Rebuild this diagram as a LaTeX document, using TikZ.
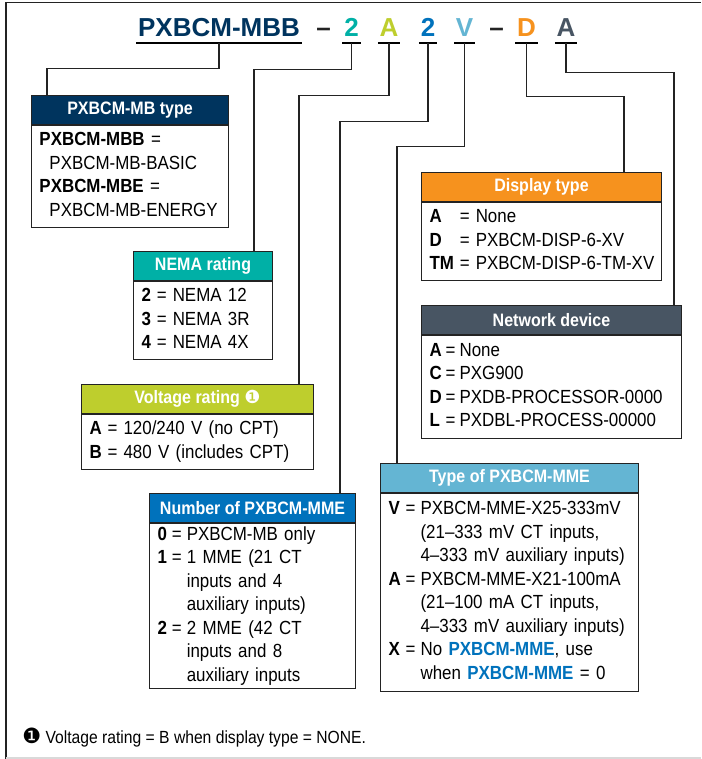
\documentclass[tikz,border=0pt]{standalone}
\usepackage{fontspec}
\setmainfont{Liberation Sans}[FakeStretch=0.89]
\newfontfamily\titlefont{Liberation Sans}
\newfontfamily\symfont{DejaVu Sans}
\usetikzlibrary{positioning}
\definecolor{navy}{RGB}{0,52,94}
\definecolor{tealc}{RGB}{0,176,166}
\definecolor{limec}{RGB}{190,206,45}
\definecolor{bluec}{RGB}{0,114,188}
\definecolor{ltbluec}{RGB}{100,181,211}
\definecolor{orangec}{RGB}{246,146,30}
\definecolor{slatec}{RGB}{72,85,99}
\definecolor{ink}{RGB}{35,35,35}
\tikzset{
  hdr/.style={draw=ink, line width=0.5pt, fill=#1, text=white, anchor=north west,
    minimum height=14.5pt, inner sep=0pt, font=\fontsize{9}{10}\selectfont\bfseries},
  bodybox/.style={draw=ink, line width=0.5pt, anchor=north west, align=left,
    inner xsep=4pt, inner ysep=0pt, font=\fontsize{9.5}{11.75}\selectfont},
  ttl/.style={font=\titlefont\fontsize{13}{14}\selectfont\bfseries, anchor=base,
    inner xsep=0.7pt, inner ysep=3pt, text depth=0pt},
  conn/.style={draw=ink, line width=0.7pt},
  uline/.style={line width=1.1pt, black},
}
\begin{document}
\begin{tikzpicture}[x=0.5pt, y=-0.5pt]
	\useasboundingbox (0,0) rectangle (701,759);
	% frame
	\draw[ink, line width=0.6pt] (6,759) -- (6,2.5) -- (701,2.5);
	\draw[black!15, line width=0.6pt] (6,758) -- (701,758);

	% catalog number
	\node[ttl, text=navy] (mbb) at (219,37) {PXBCM-MBB};
	\node[ttl, text=ink] (d1) at (323.5,37) {–};
	\node[ttl, text=tealc] (n1) at (351.5,37) {2};
	\node[ttl, text=limec] (a1) at (389,37) {A};
	\node[ttl, text=bluec] (n2) at (428,37) {2};
	\node[ttl, text=ltbluec] (v) at (464.5,37) {V};
	\node[ttl, text=ink] (d2) at (496.5,37) {–};
	\node[ttl, text=orangec] (d) at (526.5,37) {D};
	\node[ttl, text=slatec] (a2) at (566,37) {A};
	\foreach \n in {mbb,n1,a1,n2,v,d,a2}
		\draw[uline] (\n.south west) -- (\n.south east);

	% PXBCM-MB type
	\node[hdr=navy, minimum width=98.5pt] (mbt) at (31,95) {PXBCM-MB type};
	\node[bodybox, text width=90.5pt, minimum height=51pt] (mbt-b) at (mbt.south west)
		{\begin{tabular}{@{}l@{}}
		\textbf{PXBCM-MBB} =\\
		\hspace*{5pt}PXBCM-MB-BASIC\\
		\textbf{PXBCM-MBE} =\\
		\hspace*{5pt}PXBCM-MB-ENERGY
		\end{tabular}};

	% NEMA rating
	\node[hdr=tealc, minimum width=69.5pt] (nema) at (133,251) {NEMA rating};
	\node[bodybox, text width=61.5pt, minimum height=39pt] (nema-b) at (nema.south west)
		{\begin{tabular}{@{}l@{\hspace{3pt}}l@{\hspace{3pt}}l@{}}
		\textbf{2} & = & NEMA 12\\
		\textbf{3} & = & NEMA 3R\\
		\textbf{4} & = & NEMA 4X
		\end{tabular}};

	% Voltage rating
	\node[hdr=limec, minimum width=116pt] (volt) at (81,384) {Voltage rating {\symfont\mdseries ❶}};
	\node[bodybox, text width=108pt, minimum height=27.5pt] (volt-b) at (volt.south west)
		{\begin{tabular}{@{}l@{\hspace{3pt}}l@{\hspace{3pt}}l@{}}
		\textbf{A} & = & 120/240 V (no CPT)\\
		\textbf{B} & = & 480 V (includes CPT)
		\end{tabular}};

	% Number of PXBCM-MME
	\node[hdr=bluec, minimum width=103pt] (num) at (149,493) {Number of PXBCM-MME};
	\node[bodybox, text width=95pt, minimum height=82.5pt] (num-b) at (num.south west)
		{\begin{tabular}{@{}l@{\hspace{2.5pt}}l@{\hspace{2.5pt}}l@{}}
		\textbf{0} & = & PXBCM-MB only\\
		\textbf{1} & = & 1 MME (21 CT\\
		 & & inputs and 4\\
		 & & auxiliary inputs)\\
		\textbf{2} & = & 2 MME (42 CT\\
		 & & inputs and 8\\
		 & & auxiliary inputs
		\end{tabular}};

	% Display type
	\node[hdr=orangec, minimum width=120pt] (disp) at (421,172) {Display type};
	\node[bodybox, text width=112pt, minimum height=39pt] (disp-b) at (disp.south west)
		{\begin{tabular}{@{}l@{\hspace{3pt}}l@{\hspace{3pt}}l@{}}
		\textbf{A} & = & None\\
		\textbf{D} & = & PXBCM-DISP-6-XV\\
		\textbf{TM} & = & PXBCM-DISP-6-TM-XV
		\end{tabular}};

	% Network device
	\node[hdr=slatec, minimum width=130pt] (net) at (421,305) {Network device};
	\node[bodybox, text width=122pt, minimum height=51.5pt] (net-b) at (net.south west)
		{\begin{tabular}{@{}l@{\hspace{2pt}}l@{\hspace{2pt}}l@{}}
		\textbf{A} & = & None\\
		\textbf{C} & = & PXG900\\
		\textbf{D} & = & PXDB-PROCESSOR-0000\\
		\textbf{L} & = & PXDBL-PROCESS-00000
		\end{tabular}};

	% Type of PXBCM-MME
	\node[hdr=ltbluec, minimum width=129pt] (typ) at (380,463) {Type of PXBCM-MME};
	\node[bodybox, text width=121pt, minimum height=99pt] (typ-b) at (typ.south west)
		{\begin{tabular}{@{}l@{\hspace{2.5pt}}l@{\hspace{2.5pt}}l@{}}
		\textbf{V} & = & PXBCM-MME-X25-333mV\\
		 & & (21–333 mV CT inputs,\\
		 & & 4–333 mV auxiliary inputs)\\
		\textbf{A} & = & PXBCM-MME-X21-100mA\\
		 & & (21–100 mA CT inputs,\\
		 & & 4–333 mV auxiliary inputs)\\
		\textbf{X} & = & No \textcolor{bluec}{\textbf{PXBCM-MME}}, use\\
		 & & when \textcolor{bluec}{\textbf{PXBCM-MME}} = 0
		\end{tabular}};

	% connectors
	\draw[conn] (mbb.south) -- ++(0,25) -| ([xshift=8pt]mbt.north west);
	\draw[conn] (n1.south) -- ++(0,26) -| ([xshift=-9.5pt]nema.north east);
	\draw[conn] (a1.south) -- ++(0,52) -| ([xshift=-7.5pt]volt.north east);
	\draw[conn] (n2.south) -- ++(0,78) -| ([xshift=-8pt]num.north east);
	\draw[conn] (v.south) -- ++(0,103) -| ([xshift=8.5pt]typ.north west);
	\draw[conn] (d.south) -- ++(0,53) -| ([xshift=-19pt]disp.north east);
	\draw[conn] (a2.south) -- ++(0,29) -| ([xshift=-4pt]net.north east);

	% footnote
	\node[anchor=base west, inner sep=0pt, font=\fontsize{8.8}{10}\selectfont] (fn) at (22,743)
		{{\symfont\fontsize{10.5}{10}\selectfont ❶} Voltage rating = B when display type = NONE.};
\end{tikzpicture}
\end{document}
